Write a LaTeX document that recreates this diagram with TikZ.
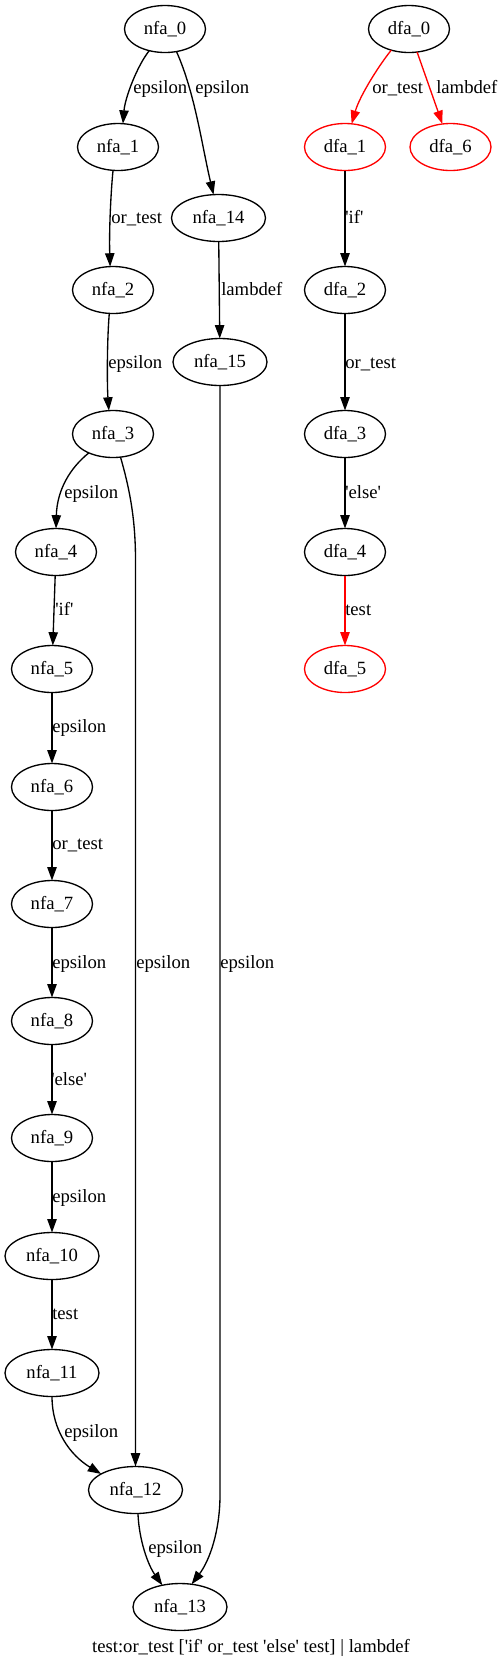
\documentclass[tikz,border=0pt]{standalone}
\usepackage{fontspec}
\setmainfont{Liberation Serif}
\usetikzlibrary{shapes.geometric,arrows.meta}
\begin{document}
\begin{tikzpicture}[x=0.75pt,y=-0.75pt,
  st/.style={ellipse,draw,line width=1pt,inner sep=0pt,outer sep=0pt,
    minimum width=60.75pt,minimum height=35.25pt,font=\fontsize{14pt}{17pt}\selectfont},
  wide/.style={minimum width=70.5pt},
  fin/.style={draw=red},
  lbl/.style={anchor=base west,inner sep=0pt,font=\fontsize{14pt}{17pt}\selectfont},
  ed/.style={line width=1pt,-{Triangle[length=10pt,width=7pt]}},
  red edge/.style={ed,color=red}]
\useasboundingbox (0,0) rectangle (501,1668);
% NFA nodes
\node[st] (nfa0) at (165,29) {nfa\_0};
\node[st] (nfa1) at (118,147) {nfa\_1};
\node[st,wide] (nfa14) at (218.5,218) {nfa\_14};
\node[st] (nfa2) at (113,290) {nfa\_2};
\node[st,wide] (nfa15) at (220,362) {nfa\_15};
\node[st] (nfa3) at (113,434) {nfa\_3};
\node[st] (nfa4) at (56,552) {nfa\_4};
\node[st] (nfa5) at (52,669) {nfa\_5};
\node[st] (nfa6) at (52,787) {nfa\_6};
\node[st] (nfa7) at (52,904) {nfa\_7};
\node[st] (nfa8) at (52,1021) {nfa\_8};
\node[st] (nfa9) at (52,1138) {nfa\_9};
\node[st,wide] (nfa10) at (52,1256) {nfa\_10};
\node[st,wide] (nfa11) at (52,1373) {nfa\_11};
\node[st,wide] (nfa12) at (135.5,1490) {nfa\_12};
\node[st,wide] (nfa13) at (180,1607) {nfa\_13};
% DFA nodes
\node[st] (dfa0) at (409,29) {dfa\_0};
\node[st,fin] (dfa1) at (345,147) {dfa\_1};
\node[st,fin] (dfa6) at (450.5,147) {dfa\_6};
\node[st] (dfa2) at (345,290) {dfa\_2};
\node[st] (dfa3) at (345,434) {dfa\_3};
\node[st] (dfa4) at (345,552) {dfa\_4};
\node[st,fin] (dfa5) at (345,669) {dfa\_5};
% NFA edges
\draw[ed] (nfa0.234) .. controls (137,66) and (125,98) .. (nfa1.78);
\node[lbl] (l01) at (133,93) {epsilon};
\draw[ed] (nfa0.297) .. controls (195,93) and (202,146) .. (nfa14.102);
\node[lbl] (l014) at (195,93) {epsilon};
\draw[ed] (nfa1.258) .. controls (111,190) and (109,230) .. (nfa2.97);
\node[lbl] (l12) at (111,223) {or\_test};
\draw[ed] (nfa14) -- (nfa15);
\node[lbl] (l1415) at (221,295) {lambdef};
\draw[ed] (nfa2.261) .. controls (107,340) and (107,385) .. (nfa3.100);
\node[lbl] (l23) at (108,368) {epsilon};
\draw[ed] (nfa3.218) .. controls (70,468) and (57,490) .. (nfa4.north);
\node[lbl] (l34) at (64,498) {epsilon};
\draw[ed] (nfa3.288) .. controls (130,490) and (135.5,520) .. (135.5,560) -- (nfa12.north);
\node[lbl] (l312) at (136,968) {epsilon};
\draw[ed] (nfa15.south) -- (220,1495) .. controls (220,1530) and (210,1560) .. (nfa13.63);
\node[lbl] (l1513) at (220,968) {epsilon};
\draw[ed] (nfa4) -- (nfa5);
\node[lbl] (l45) at (55,615) {\textquotesingle if\textquotesingle};
\draw[ed] (nfa5) -- (nfa6);
\node[lbl] (l56) at (52,732) {epsilon};
\draw[ed] (nfa6) -- (nfa7);
\node[lbl] (l67) at (52,849) {or\_test};
\draw[ed] (nfa7) -- (nfa8);
\node[lbl] (l78) at (52,968) {epsilon};
\draw[ed] (nfa8) -- (nfa9);
\node[lbl] (l89) at (51,1085) {\textquotesingle else\textquotesingle};
\draw[ed] (nfa9) -- (nfa10);
\node[lbl] (l910) at (52,1202) {epsilon};
\draw[ed] (nfa10) -- (nfa11);
\node[lbl] (l1011) at (52,1319) {test};
\draw[ed] (nfa11.270) .. controls (52,1430) and (70,1455) .. (nfa12.155);
\node[lbl] (l1112) at (64,1437) {epsilon};
\draw[ed] (nfa12.276) .. controls (139,1540) and (148,1565) .. (nfa13.129);
\node[lbl] (l1213) at (148,1553) {epsilon};
% DFA edges
\draw[red edge] (dfa0.230) .. controls (380,64) and (360,95) .. (dfa1.74);
\node[lbl] (d01) at (372,93) {or\_test};
\draw[red edge] (dfa0) -- (dfa6);
\node[lbl] (d06) at (436,93) {lambdef};
\draw[ed] (dfa1) -- (dfa2);
\node[lbl] (d12) at (345,223) {\textquotesingle if\textquotesingle};
\draw[ed] (dfa2) -- (dfa3);
\node[lbl] (d23) at (345,368) {or\_test};
\draw[ed] (dfa3) -- (dfa4);
\node[lbl] (d34) at (345,498) {\textquotesingle else\textquotesingle};
\draw[red edge] (dfa4) -- (dfa5);
\node[lbl] (d45) at (345,615) {test};
% title
\node[anchor=base,inner sep=0pt,font=\fontsize{14pt}{17pt}\selectfont] (title) at (251,1652) {test:or\_test [\textquotesingle if\textquotesingle{} or\_test \textquotesingle else\textquotesingle{} test] | lambdef};
\end{tikzpicture}
\end{document}
